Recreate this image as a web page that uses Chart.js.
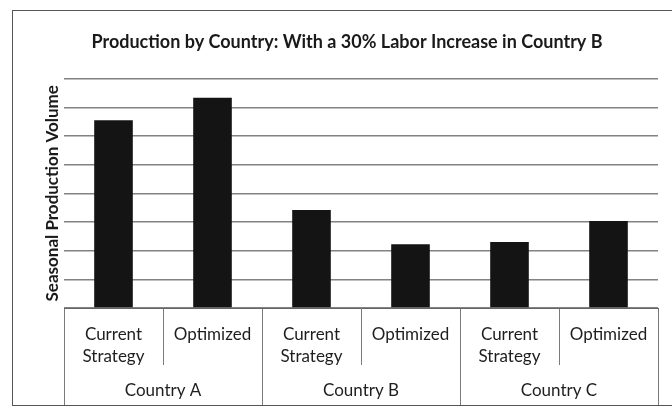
<!DOCTYPE html>
<html>
<head>
<meta charset="utf-8">
<script src="https://cdn.jsdelivr.net/npm/chart.js@4.4.1/dist/chart.umd.min.js"></script>
<style>
  html, body { margin: 0; padding: 0; background: #fff; overflow: hidden; }
  #wrap { position: relative; width: 672px; height: 408px; }
  #frame { position: absolute; left: 12px; top: 10px; width: 700px; height: 394px; border: 1px solid #555; }
  #myChart { position: absolute; left: 0; top: 0; }
</style>
</head>
<body>
<div id="wrap">
  <div id="frame"></div>
  <canvas id="myChart" width="672" height="408"></canvas>
</div>
<script>
var ctx = document.getElementById('myChart');

// strategy under each country, in order
const strategies = [['Current', 'Strategy'], 'Optimized', ['Current', 'Strategy'], 'Optimized', ['Current', 'Strategy'], 'Optimized'];
const countries = ['Country A', 'Country B', 'Country C'];
const volumes = [6.55, 7.33, 3.42, 2.22, 2.3, 3.03];

const lineGray = '#7a7a7a';
const font = 'Lato, Calibri, sans-serif';

var myChart = new Chart(ctx, {
  type: 'bar',
  data: {
    labels: strategies,
    datasets: [{
      data: volumes,
      backgroundColor: '#141414',
      borderWidth: 0,
      categoryPercentage: 1,
      barPercentage: 0.39
    }]
  },
  options: {
    responsive: false,
    animation: false,
    layout: {
      padding: { left: 36, right: 14, top: 5, bottom: 3 }
    },
    scales: {
      x: {
        weight: 0,
        grid: { offset: true, drawOnChartArea: false, tickLength: 57, color: lineGray, lineWidth: 1 },
        border: { display: true, color: '#666', width: 1 },
        // mirror keeps the two-line labels from being clipped at the box edge
        ticks: { mirror: true, padding: -37.5, color: '#1e1e1e', font: { family: font, size: 17, lineHeight: 1.35 } },
        afterFit: function (scale) { scale.height = 57; }
      },
      x2: {
        type: 'category',
        position: 'bottom',
        weight: 1,
        labels: countries,
        grid: { offset: true, drawOnChartArea: false, tickLength: 40, color: lineGray, lineWidth: 1 },
        border: { display: false },
        ticks: { padding: -25, color: '#1e1e1e', font: { family: font, size: 17 } },
        afterFit: function (scale) { scale.height = 40; }
      },
      y: {
        min: 0,
        max: 8,
        ticks: { display: false, stepSize: 1 },
        grid: { drawTicks: false, color: '#828282', lineWidth: 1.5 },
        border: { display: false },
        title: {
          display: true,
          text: 'Seasonal Production Volume',
          color: '#1a1a1a',
          padding: { top: 6, bottom: 0 },
          font: { family: font, size: 17, weight: 'bold' }
        },
        afterFit: function (scale) { scale.width = 28; }
      }
    },
    plugins: {
      legend: { display: false },
      tooltip: { enabled: false },
      title: {
        display: true,
        text: 'Production by Country: With a 30% Labor Increase in Country B',
        color: '#1a1a1a',
        padding: { top: 26, bottom: 26 },
        font: { family: font, size: 18, weight: 'bold', lineHeight: 1.2 }
      }
    }
  }
});
</script>
</body>
</html>
